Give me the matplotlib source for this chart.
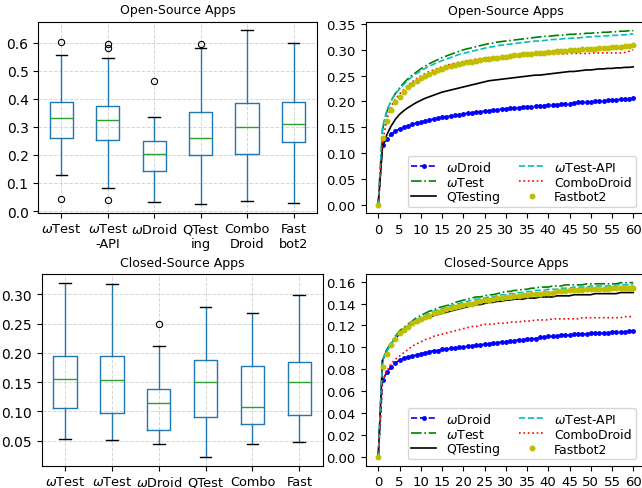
import numpy as np
import matplotlib
matplotlib.use('Agg')
import matplotlib.pyplot as plt
from matplotlib.ticker import FormatStrFormatter

# box plot labels
box_labels = [r'$\omega$Test', '$\\omega$Test\n-API', r'$\omega$Droid', 'QTest\ning', 'Combo\nDroid', 'Fast\nbot2']

# open-source box stats
open_whislo = [0.130, 0.083, 0.032, 0.025, 0.035, 0.028]
open_q1 = [0.260, 0.254, 0.144, 0.200, 0.204, 0.245]
open_med = [0.333, 0.324, 0.202, 0.262, 0.299, 0.312]
open_q3 = [0.387, 0.376, 0.251, 0.354, 0.386, 0.389]
open_whishi = [0.556, 0.544, 0.334, 0.580, 0.644, 0.598]
open_fliers = [[0.601, 0.043], [0.594, 0.582, 0.040], [0.463], [0.597], [], []]

# closed-source box stats
closed_whislo = [0.052, 0.051, 0.044, 0.022, 0.045, 0.047]
closed_q1 = [0.105, 0.097, 0.069, 0.091, 0.078, 0.094]
closed_med = [0.155, 0.153, 0.115, 0.151, 0.108, 0.151]
closed_q3 = [0.194, 0.194, 0.138, 0.187, 0.178, 0.185]
closed_whishi = [0.320, 0.317, 0.211, 0.278, 0.268, 0.299]
closed_fliers = [[], [], [0.250], [], [], []]

minutes = list(range(61))

# open-source coverage curves
open_wdroid = [0, 0.115, 0.128, 0.136, 0.142, 0.147, 0.150, 0.153, 0.156, 0.158, 0.160,
               0.162, 0.164, 0.166, 0.167, 0.169, 0.170, 0.172, 0.173, 0.174, 0.176,
               0.177, 0.178, 0.179, 0.180, 0.181, 0.182, 0.183, 0.184, 0.185, 0.186,
               0.187, 0.187, 0.188, 0.189, 0.190, 0.190, 0.191, 0.192, 0.192, 0.193,
               0.194, 0.194, 0.195, 0.196, 0.196, 0.197, 0.198, 0.198, 0.199, 0.199,
               0.200, 0.201, 0.201, 0.202, 0.202, 0.203, 0.204, 0.204, 0.205, 0.206]
open_wtest = [0, 0.145, 0.180, 0.201, 0.215, 0.226, 0.236, 0.244, 0.251, 0.257, 0.263,
              0.268, 0.273, 0.277, 0.281, 0.285, 0.288, 0.291, 0.294, 0.297, 0.300,
              0.302, 0.304, 0.306, 0.308, 0.310, 0.312, 0.313, 0.315, 0.316, 0.317,
              0.318, 0.319, 0.320, 0.321, 0.322, 0.323, 0.324, 0.325, 0.326, 0.326,
              0.327, 0.328, 0.328, 0.329, 0.330, 0.330, 0.331, 0.331, 0.332, 0.332,
              0.333, 0.333, 0.334, 0.334, 0.335, 0.335, 0.336, 0.336, 0.337, 0.337]
open_qtesting = [0, 0.113, 0.135, 0.152, 0.165, 0.175, 0.182, 0.188, 0.193, 0.198, 0.202,
                 0.206, 0.209, 0.212, 0.215, 0.218, 0.220, 0.222, 0.224, 0.226, 0.228,
                 0.230, 0.232, 0.234, 0.236, 0.238, 0.240, 0.241, 0.242, 0.243, 0.244,
                 0.245, 0.246, 0.247, 0.248, 0.249, 0.250, 0.251, 0.251, 0.252, 0.253,
                 0.254, 0.255, 0.256, 0.257, 0.258, 0.258, 0.259, 0.260, 0.261, 0.261,
                 0.262, 0.263, 0.263, 0.264, 0.264, 0.265, 0.265, 0.266, 0.266, 0.267]
open_wtestapi = [0, 0.150, 0.182, 0.201, 0.214, 0.224, 0.233, 0.241, 0.248, 0.254, 0.259,
                 0.264, 0.268, 0.272, 0.276, 0.279, 0.282, 0.285, 0.288, 0.291, 0.293,
                 0.295, 0.297, 0.299, 0.301, 0.303, 0.305, 0.306, 0.308, 0.309, 0.310,
                 0.311, 0.312, 0.313, 0.314, 0.315, 0.316, 0.317, 0.317, 0.318, 0.319,
                 0.320, 0.320, 0.321, 0.322, 0.322, 0.323, 0.323, 0.324, 0.325, 0.325,
                 0.326, 0.326, 0.327, 0.327, 0.328, 0.328, 0.329, 0.329, 0.330, 0.331]
open_combodroid = [0, 0.120, 0.165, 0.190, 0.204, 0.214, 0.223, 0.231, 0.238, 0.244, 0.249,
                   0.254, 0.258, 0.261, 0.264, 0.267, 0.270, 0.272, 0.274, 0.276, 0.277,
                   0.279, 0.280, 0.282, 0.283, 0.284, 0.285, 0.286, 0.286, 0.287, 0.288,
                   0.288, 0.289, 0.289, 0.290, 0.290, 0.290, 0.291, 0.291, 0.291, 0.291,
                   0.292, 0.292, 0.292, 0.292, 0.293, 0.293, 0.293, 0.293, 0.293, 0.293,
                   0.294, 0.294, 0.294, 0.294, 0.294, 0.294, 0.294, 0.295, 0.297, 0.300]
open_fastbot2 = [0, 0.130, 0.163, 0.184, 0.198, 0.209, 0.219, 0.227, 0.234, 0.240, 0.245,
                 0.249, 0.253, 0.257, 0.260, 0.263, 0.266, 0.268, 0.270, 0.272, 0.274,
                 0.276, 0.277, 0.279, 0.280, 0.282, 0.283, 0.284, 0.285, 0.286, 0.287,
                 0.288, 0.289, 0.290, 0.291, 0.291, 0.292, 0.293, 0.294, 0.294, 0.295,
                 0.296, 0.297, 0.297, 0.298, 0.299, 0.299, 0.300, 0.301, 0.301, 0.302,
                 0.302, 0.303, 0.304, 0.304, 0.305, 0.305, 0.306, 0.307, 0.308, 0.309]

# closed-source coverage curves
closed_wdroid = [0, 0.070, 0.077, 0.082, 0.086, 0.088, 0.090, 0.091, 0.092, 0.093, 0.094,
                 0.095, 0.096, 0.097, 0.097, 0.098, 0.098, 0.099, 0.099, 0.100, 0.100,
                 0.101, 0.101, 0.102, 0.102, 0.103, 0.103, 0.104, 0.104, 0.105, 0.105,
                 0.106, 0.106, 0.107, 0.107, 0.108, 0.108, 0.108, 0.109, 0.109, 0.110,
                 0.110, 0.110, 0.111, 0.111, 0.111, 0.112, 0.112, 0.112, 0.112, 0.113,
                 0.113, 0.113, 0.113, 0.113, 0.114, 0.114, 0.114, 0.114, 0.115, 0.115]
closed_wtest = [0, 0.088, 0.098, 0.104, 0.110, 0.115, 0.118, 0.121, 0.124, 0.127, 0.129,
                0.131, 0.133, 0.134, 0.136, 0.137, 0.138, 0.139, 0.141, 0.142, 0.143,
                0.144, 0.145, 0.146, 0.146, 0.147, 0.148, 0.148, 0.149, 0.150, 0.151,
                0.151, 0.152, 0.152, 0.153, 0.153, 0.154, 0.154, 0.155, 0.155, 0.155,
                0.156, 0.156, 0.156, 0.157, 0.157, 0.157, 0.157, 0.157, 0.158, 0.158,
                0.158, 0.158, 0.158, 0.158, 0.158, 0.158, 0.159, 0.159, 0.159, 0.159]
closed_qtesting = [0, 0.088, 0.097, 0.103, 0.108, 0.112, 0.116, 0.118, 0.121, 0.123, 0.124,
                   0.126, 0.127, 0.129, 0.130, 0.131, 0.132, 0.133, 0.134, 0.135, 0.136,
                   0.137, 0.138, 0.139, 0.139, 0.140, 0.141, 0.141, 0.142, 0.142, 0.143,
                   0.143, 0.144, 0.144, 0.144, 0.145, 0.145, 0.145, 0.146, 0.146, 0.146,
                   0.146, 0.147, 0.147, 0.147, 0.147, 0.148, 0.148, 0.148, 0.148, 0.148,
                   0.149, 0.149, 0.149, 0.149, 0.149, 0.149, 0.150, 0.150, 0.150, 0.150]
closed_wtestapi = [0, 0.088, 0.097, 0.103, 0.109, 0.114, 0.117, 0.120, 0.123, 0.125, 0.127,
                   0.129, 0.131, 0.133, 0.134, 0.135, 0.137, 0.138, 0.139, 0.140, 0.141,
                   0.142, 0.143, 0.144, 0.144, 0.145, 0.146, 0.146, 0.147, 0.148, 0.148,
                   0.149, 0.149, 0.150, 0.150, 0.151, 0.151, 0.152, 0.152, 0.152, 0.153,
                   0.153, 0.153, 0.154, 0.154, 0.154, 0.155, 0.155, 0.155, 0.155, 0.156,
                   0.156, 0.156, 0.156, 0.156, 0.156, 0.157, 0.157, 0.157, 0.157, 0.157]
closed_combodroid = [0, 0.068, 0.078, 0.085, 0.089, 0.092, 0.095, 0.098, 0.101, 0.103, 0.105,
                     0.107, 0.108, 0.110, 0.111, 0.112, 0.113, 0.114, 0.115, 0.116, 0.117,
                     0.118, 0.119, 0.119, 0.120, 0.121, 0.121, 0.121, 0.122, 0.122, 0.122,
                     0.123, 0.123, 0.123, 0.124, 0.124, 0.124, 0.125, 0.125, 0.125, 0.125,
                     0.126, 0.126, 0.126, 0.126, 0.126, 0.126, 0.126, 0.127, 0.127, 0.127,
                     0.127, 0.127, 0.127, 0.127, 0.127, 0.127, 0.127, 0.128, 0.128, 0.128]
closed_fastbot2 = [0, 0.082, 0.094, 0.102, 0.108, 0.113, 0.116, 0.119, 0.122, 0.124, 0.126,
                   0.128, 0.129, 0.131, 0.132, 0.133, 0.135, 0.136, 0.137, 0.138, 0.139,
                   0.140, 0.140, 0.141, 0.142, 0.143, 0.143, 0.144, 0.145, 0.145, 0.146,
                   0.146, 0.147, 0.147, 0.148, 0.148, 0.149, 0.149, 0.149, 0.150, 0.150,
                   0.150, 0.151, 0.151, 0.151, 0.152, 0.152, 0.152, 0.152, 0.153, 0.153,
                   0.153, 0.153, 0.153, 0.153, 0.154, 0.154, 0.154, 0.154, 0.154, 0.154]

# y tick values per panel
open_box_ticks = [0.0, 0.1, 0.2, 0.3, 0.4, 0.5, 0.6]
closed_box_ticks = [0.05, 0.10, 0.15, 0.20, 0.25, 0.30]
open_curve_ticks = [0.00, 0.05, 0.10, 0.15, 0.20, 0.25, 0.30, 0.35]
closed_curve_ticks = [0.00, 0.02, 0.04, 0.06, 0.08, 0.10, 0.12, 0.14, 0.16]

W, H = 642, 489


def px_axes(fig, left, top, right, bottom):
    return fig.add_axes([left / W, 1 - bottom / H, (right - left) / W, (bottom - top) / H])


def draw_box(ax, title, whislo, q1, med, q3, whishi, fliers, yticks, fmt):
    stats = []
    for i in range(len(box_labels)):
        stats.append(dict(whislo=whislo[i], q1=q1[i], med=med[i], q3=q3[i],
                          whishi=whishi[i], fliers=fliers[i]))
    ax.bxp(stats, widths=0.5,
           boxprops=dict(color='#1f77b4', linewidth=1.0),
           whiskerprops=dict(color='#1f77b4', linewidth=1.0),
           capprops=dict(color='k', linewidth=1.0),
           medianprops=dict(color='#2ca02c', linewidth=1.0),
           flierprops=dict(marker='o', markerfacecolor='none', markeredgecolor='k',
                           markersize=4.5, markeredgewidth=0.8))
    ax.set_xticks(range(1, len(box_labels) + 1))
    ax.set_xticklabels(box_labels, fontsize=9.3)
    ax.set_yticks(yticks)
    ax.yaxis.set_major_formatter(FormatStrFormatter(fmt))
    ax.tick_params(axis='y', labelsize=10)
    ax.grid(True, linestyle='--', color='#cccccc', linewidth=0.7, alpha=0.8)
    ax.set_axisbelow(True)
    ax.set_title(title, fontsize=9)


def draw_curves(ax, title, wdroid, wtest, qtesting, wtestapi, combodroid, fastbot2, yticks):
    ax.plot(minutes, wdroid, 'b--', marker='.', markersize=5, linewidth=1.2, label=r'$\omega$Droid')
    ax.plot(minutes, wtest, 'g-.', linewidth=1.2, label=r'$\omega$Test')
    ax.plot(minutes, qtesting, 'k-', linewidth=1.2, label='QTesting')
    ax.plot(minutes, wtestapi, 'c--', linewidth=1.2, label=r'$\omega$Test-API')
    ax.plot(minutes, combodroid, 'r:', linewidth=1.2, label='ComboDroid')
    ax.plot(minutes, fastbot2, 'y.', markersize=6.5, label='Fastbot2')
    ax.set_xticks(range(0, 61, 5))
    ax.set_xlim(-3, 63)
    ax.set_yticks(yticks)
    ax.yaxis.set_major_formatter(FormatStrFormatter('%.2f'))
    ax.tick_params(labelsize=9.5)
    ax.legend(ncol=2, loc='lower right', fontsize=9, handlelength=2.0,
              columnspacing=1.5, labelspacing=0.15, borderpad=0.3,
              bbox_to_anchor=(0.985, 0.0))
    ax.set_title(title, fontsize=9)


fig = plt.figure(figsize=(W / 100, H / 100), dpi=100)

ax1 = px_axes(fig, 38.3, 22.7, 316.7, 213.7)
draw_box(ax1, 'Open-Source Apps', open_whislo, open_q1, open_med, open_q3, open_whishi,
         open_fliers, open_box_ticks, '%.1f')

ax2 = px_axes(fig, 365.5, 23, 646, 214.4)
draw_curves(ax2, 'Open-Source Apps', open_wdroid, open_wtest, open_qtesting,
            open_wtestapi, open_combodroid, open_fastbot2, open_curve_ticks)

ax3 = px_axes(fig, 41.7, 275, 322.7, 466.7)
draw_box(ax3, 'Closed-Source Apps', closed_whislo, closed_q1, closed_med, closed_q3,
         closed_whishi, closed_fliers, closed_box_ticks, '%.2f')

ax4 = px_axes(fig, 365.5, 275, 646, 466.5)
draw_curves(ax4, 'Closed-Source Apps', closed_wdroid, closed_wtest, closed_qtesting,
            closed_wtestapi, closed_combodroid, closed_fastbot2, closed_curve_ticks)

fig.savefig('out.png', dpi=100)
